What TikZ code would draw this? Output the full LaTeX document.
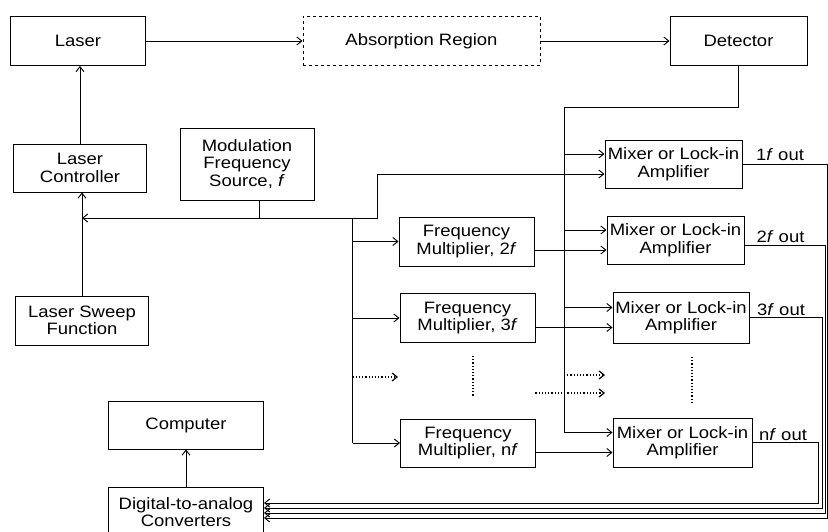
\documentclass[tikz,border=0pt]{standalone}
\usepackage{fontspec}
\setmainfont{Liberation Sans}[FakeStretch=1.12]
\usetikzlibrary{arrows.meta}

\begin{document}
\begin{tikzpicture}[x=1pt,y=-1pt,line width=0.95pt,
  >={Straight Barb[length=5pt,width=8pt]},
  box/.style={draw,align=center,inner sep=0pt,minimum width=135pt,minimum height=49pt,
    font=\fontsize{16.5}{17.5}\selectfont},
  mixbox/.style={box,minimum width=137pt},
  lbl/.style={anchor=base,inner sep=0pt,font=\fontsize{16.5}{17.5}\selectfont},
  dotline/.style={dotted,line width=1.2pt}]
  \useasboundingbox (0,0) rectangle (828,532);

  % optical path
  \node[box] (laser) at (78,41) {Laser};
  \node[box,dashed,minimum width=237pt] (absorb) at (421.5,41) {Absorption Region};
  \node[box,minimum width=137pt] (detector) at (738.5,41) {Detector};
  \draw[->] (laser) -- (absorb);
  \draw[->] (absorb) -- (detector);

  % laser drive
  \node[box,minimum width=133pt,minimum height=48pt] (ctrl) at (80,168) {Laser\\Controller};
  \node[box,minimum width=134pt,minimum height=72pt] (mod) at (247,164) {Modulation\\Frequency\\Source, \textit{f}};
  \node[box,minimum width=133pt] (sweep) at (82,320.5) {Laser Sweep\\Function};
  \draw[->] (ctrl.north) -- (ctrl.north |- laser.south);
  \draw[->] (sweep.north) -- (sweep.north |- ctrl.south);

  \coordinate (modj) at (259,218);
  \coordinate (split) at (352.5,218);
  \coordinate (up1) at (377,218);
  \coordinate (bus) at (564,107);
  \draw (modj |- mod.south) -- (modj);
  \draw[->] (modj) -- (modj -| sweep.north);

  % multipliers and mixers
  \node[box] (fm2) at (466.5,241.5) {Frequency\\Multiplier, 2\textit{f}};
  \node[box] (fm3) at (467.5,318) {Frequency\\Multiplier, 3\textit{f}};
  \node[box,minimum height=48pt] (fmn) at (468,443) {Frequency\\Multiplier, n\textit{f}};

  \node[mixbox,minimum height=48pt] (mix1) at (673.5,164) {Mixer or Lock-in\\Amplifier};
  \node[mixbox,minimum height=48pt] (mix2) at (675.5,240) {Mixer or Lock-in\\Amplifier};
  \node[mixbox,minimum height=51pt,minimum width=136pt] (mix3) at (681,317.5) {Mixer or Lock-in\\Amplifier};
  \node[mixbox,minimum width=139pt] (mixn) at (682.5,442.5) {Mixer or Lock-in\\Amplifier};

  \foreach \m in {mix1,mix2,mix3,mixn} {
    \coordinate (\m-a) at ([yshift=10pt]\m.west);
    \coordinate (\m-b) at ([yshift=-10pt]\m.west);
  }

  \draw[->] (modj) -- (up1) |- (mix1-b);
  \draw (split) -- (split |- fmn.west);
  \foreach \f in {fm2,fm3,fmn}
    \draw[->] (split |- \f.west) -- (\f.west);

  \draw (detector.south) |- (bus) -- (bus |- mixn-a);
  \foreach \m in {mix1,mix2,mix3,mixn}
    \draw[->] (bus |- \m-a) -- (\m-a);
  \foreach \f/\m in {fm2/mix2,fm3/mix3,fmn/mixn}
    \draw[->] (\f.east |- \m-b) -- (\m-b);

  % dotted rows
  \coordinate (dotf) at (398,377);
  \coordinate (dotma) at (605,375);
  \coordinate (dotmb) at (605,393);
  \draw[->,dotline] (split |- dotf) -- (dotf);
  \draw[->,dotline] (bus |- dotma) -- (dotma);
  \draw[->,dotline] (fm3.east |- dotmb) -- (dotmb);
  \draw[dotline] (473,356) -- (473,397);
  \draw[dotline] (692,357) -- (692,402);

  % data acquisition
  \node[box,minimum width=155pt,minimum height=48pt] (comp) at (186,425) {Computer};
  \node[box,minimum width=155pt,minimum height=49pt,anchor=north] (dac) at (186,487) {Digital-to-analog\\Converters};
  \draw[->] (dac) -- (comp);

  \coordinate (c1) at (827,518);
  \coordinate (c2) at (825,513);
  \coordinate (c3) at (822,508);
  \coordinate (cn) at (818,503);
  \draw[->] (mix1.east) -| (c1) -- (c1 -| dac.east);
  \draw[->] ([yshift=-5pt]mix2.east) -| (c2) -- (c2 -| dac.east);
  \draw[->] (mix3.east) -| (c3) -- (c3 -| dac.east);
  \draw[->] (mixn.east) -| (cn) -- (cn -| dac.east);

  \node[lbl] (out1) at (780,161) {1\textit{f} out};
  \node[lbl] (out2) at (780.5,243) {2\textit{f} out};
  \node[lbl] (out3) at (781,315) {3\textit{f} out};
  \node[lbl] (outn) at (783,440) {n\textit{f} out};
\end{tikzpicture}
\end{document}
